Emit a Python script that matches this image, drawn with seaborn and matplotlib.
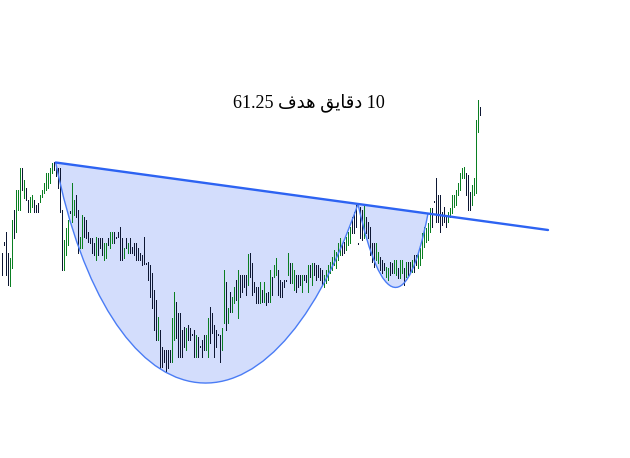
import matplotlib
matplotlib.use("Agg")
import numpy as np
import pandas as pd
import seaborn as sns
import matplotlib.pyplot as plt
from matplotlib.path import Path
from matplotlib.patches import PathPatch

# ---------------- data (bar highs / lows, price units) ----------------
HIGH = [44.7, 45.8, 46.8, 44.7, 44.2, 48.0, 49.0, 51.0, 51.0, 53.2,
        53.2, 52.0, 51.2, 50.0, 50.3, 50.5, 50.0, 49.5, 49.7, 50.5,
        51.0, 51.7, 52.7, 52.7, 53.2, 53.7, 53.8, 53.2, 53.2, 53.2,
        49.0, 46.0, 47.2, 48.0, 48.9, 51.7, 50.0, 50.5, 49.0, 46.3,
        48.5, 48.3, 48.0, 46.8, 46.2, 46.2, 45.7, 46.3, 46.2, 46.2,
        46.2, 45.7, 45.7, 46.2, 46.8, 46.8, 46.8, 46.3, 46.8, 47.3,
        46.2, 45.2, 46.2, 45.7, 46.2, 45.3, 45.7, 45.7, 45.2, 44.7,
        44.5, 46.3, 43.7, 43.8, 43.5, 42.7, 41.0, 40.0, 38.3, 37.0,
        35.3, 35.0, 35.0, 35.0, 35.0, 38.2, 40.8, 39.8, 38.7, 38.7,
        37.0, 37.3, 37.2, 37.5, 37.2, 36.6, 37.0, 36.5, 36.3, 35.4,
        36.0, 36.5, 36.5, 38.2, 39.3, 38.7, 37.5, 37.0, 36.6, 36.5,
        37.2, 43.0, 41.8, 39.2, 40.8, 40.3, 41.3, 42.0, 43.0, 42.5,
        42.5, 42.5, 42.5, 44.6, 44.7, 43.7, 41.8, 41.3, 41.3, 41.8,
        41.0, 41.8, 40.7, 40.8, 43.0, 42.3, 43.5, 44.2, 43.0, 42.0,
        41.8, 42.0, 42.0, 44.7, 43.7, 43.7, 43.0, 42.5, 42.5, 42.5,
        42.5, 42.5, 42.5, 43.5, 43.5, 43.7, 43.7, 43.5, 43.5, 43.2,
        43.0, 42.5, 43.0, 43.5, 43.8, 44.3, 45.0, 44.8, 45.7, 46.2,
        45.7, 45.8, 46.3, 46.8, 47.3, 48.3, 48.8, 49.5, 45.7, 49.3,
        49.0, 49.5, 48.3, 47.8, 47.3, 45.7, 45.7, 45.7, 44.8, 44.3,
        44.0, 43.7, 43.3, 43.2, 43.8, 43.7, 44.0, 44.0, 43.2, 44.0,
        44.0, 43.2, 43.8, 43.8, 43.8, 44.0, 44.5, 44.5, 44.7, 45.2,
        46.7, 47.3, 47.2, 47.7, 49.2, 49.2, 49.9, 52.2, 50.5, 50.5,
        48.8, 49.3, 48.5, 48.8, 49.2, 50.5, 50.5, 51.0, 51.7, 52.7,
        53.2, 53.3, 52.7, 52.5, 50.8, 51.5, 52.2, 58.0, 60.0, 59.3]

LOW = [42.5, 45.5, 42.5, 41.5, 41.4, 43.2, 46.2, 46.8, 49.0, 49.0,
       51.0, 50.2, 50.0, 48.8, 48.8, 49.3, 48.8, 48.8, 48.8, 49.8,
       50.3, 50.7, 51.0, 51.2, 51.7, 52.7, 53.0, 52.4, 51.2, 48.8,
       43.0, 43.0, 44.5, 45.5, 48.7, 47.8, 48.5, 48.3, 44.7, 45.2,
       45.2, 46.3, 46.2, 45.8, 45.7, 44.7, 44.5, 44.0, 44.5, 45.2,
       44.5, 44.0, 44.2, 45.5, 45.2, 45.7, 45.7, 46.2, 46.3, 44.0,
       44.0, 44.2, 45.2, 44.7, 44.7, 44.7, 44.5, 44.0, 44.0, 44.0,
       43.5, 43.6, 43.6, 42.0, 40.3, 39.2, 37.0, 36.0, 36.0, 33.2,
       33.3, 33.8, 32.8, 33.2, 33.8, 33.8, 36.0, 36.2, 34.3, 34.3,
       34.3, 35.3, 35.0, 36.0, 36.0, 36.5, 34.3, 34.3, 34.3, 35.3,
       34.3, 35.0, 35.0, 34.3, 35.7, 36.7, 34.3, 35.3, 36.5, 33.8,
       35.0, 37.7, 37.0, 37.7, 38.8, 38.8, 39.7, 40.0, 38.2, 40.3,
       40.8, 41.3, 40.5, 41.5, 42.3, 40.5, 40.8, 39.7, 39.7, 39.7,
       39.8, 39.8, 39.5, 39.8, 39.8, 40.5, 42.3, 42.5, 40.5, 40.3,
       40.3, 41.3, 41.9, 42.5, 41.7, 41.7, 41.0, 40.8, 41.3, 41.5,
       40.8, 42.0, 41.8, 40.8, 42.3, 41.5, 42.5, 42.0, 42.3, 42.0,
       41.5, 41.3, 41.7, 42.0, 42.7, 43.0, 43.5, 43.2, 44.0, 44.5,
       44.5, 44.7, 45.0, 45.5, 45.7, 46.7, 46.7, 47.3, 45.6, 46.2,
       46.0, 46.2, 46.7, 46.2, 44.5, 43.8, 43.3, 44.0, 43.7, 43.0,
       42.7, 43.0, 42.3, 42.0, 42.5, 42.7, 42.7, 42.5, 42.2, 42.2,
       42.7, 41.5, 42.3, 42.5, 42.8, 42.8, 42.8, 43.5, 43.2, 43.5,
       44.2, 45.3, 45.8, 46.0, 46.8, 47.3, 49.8, 47.8, 47.8, 46.8,
       47.5, 47.8, 47.3, 47.8, 48.3, 48.7, 49.3, 49.5, 50.5, 51.0,
       52.2, 52.2, 50.5, 49.0, 49.0, 49.5, 50.5, 50.7, 56.8, 58.5]

# g = up bar, k = down bar
DIRECTION = ("kkkkggkggg" "kgkkggkkkg" "ggggggkkkk" "kgggkggkkg"
             "gkkkkkkgkk" "kggkggkkkk" "kgkgkkkkkk" "kkkkkkkkgk"
             "kkkkkggkkk" "kkgkkkkgkk" "kkggkkkkkk" "ggkgkggkgk"
             "kkkgkkkkkg" "kgkkgkggkk" "kkkgkggkkk" "gkkgkgkkkk"
             "kggggggggg" "kkgggkkkkk" "kgkkkkkggk" "kkggkkggkg"
             "gkgkkgkkgg" "gggggkkkkk" "kkkggggggg" "ggkkkggggk")

# trendline (bar index, price) and cup / handle anchors
TREND_X = [27.1, 273.25]
TREND_Y = [53.75, 47.0]
CUP_X = [27.1, 53.5, 132.05, 178.25]
CUP_Y_CTRL = [27.3, 23.1]
HANDLE_X = [178.25, 189.75, 203.25, 213.25]
HANDLE_Y_CTRL = [39.0, 38.3]

TITLE = "10 دقايق هدف 61.25"

UP_COLOR = "#0a7f22"
DOWN_COLOR = "#0d1733"
FILL_COLOR = "#d3ddfc"
CURVE_COLOR = "#4a7cf5"
TREND_COLOR = "#2d63f2"


def shape_arabic(text):
    """Minimal Arabic shaping + visual reordering for the letters used."""
    forms = {  # isolated, final, initial, medial
        "د": ("\uFEA9", "\uFEAA", None, None),
        "ا": ("\uFE8D", "\uFE8E", None, None),
        "ق": ("\uFED5", "\uFED6", "\uFED7", "\uFED8"),
        "ي": ("\uFEF1", "\uFEF2", "\uFEF3", "\uFEF4"),
        "ه": ("\uFEE9", "\uFEEA", "\uFEEB", "\uFEEC"),
        "ف": ("\uFED1", "\uFED2", "\uFED3", "\uFED4"),
    }

    def dual(c):
        return c in forms and forms[c][2] is not None

    out_tokens = []
    for tok in text.split(" "):
        if any(c in forms for c in tok):
            res = []
            for i, c in enumerate(tok):
                prev_joins = i > 0 and dual(tok[i - 1])
                next_exists = i < len(tok) - 1 and tok[i + 1] in forms
                iso, fin, ini, med = forms[c]
                if prev_joins and next_exists and dual(c):
                    res.append(med)
                elif prev_joins:
                    res.append(fin)
                elif next_exists and dual(c):
                    res.append(ini)
                else:
                    res.append(iso)
            out_tokens.append("".join(reversed(res)))
        else:
            out_tokens.append(tok)
    return " ".join(reversed(out_tokens))


sns.set_theme(style="white")

df = pd.DataFrame({"idx": np.arange(len(HIGH)), "high": HIGH, "low": LOW,
                   "dir": list(DIRECTION)})

fig = plt.figure(figsize=(6.3, 4.58), dpi=100)
ax = fig.add_axes([0, 0, 1, 1])
# 2 px per bar, bar centres on pixel centres
ax.set_xlim(-0.75, 314.25)
ax.set_ylim(24.2, 70.0)
ax.axis("off")


def line_price(x):
    return TREND_Y[0] + (TREND_Y[1] - TREND_Y[0]) * (x - TREND_X[0]) / (TREND_X[1] - TREND_X[0])


def bowl(xs, yctrl):
    y0, y3 = line_price(xs[0]), line_price(xs[3])
    verts = [(xs[0], y0), (xs[1], yctrl[0]), (xs[2], yctrl[1]), (xs[3], y3)]
    fill_path = Path(verts + [(xs[0], y0), (xs[0], y0)],
                     [Path.MOVETO, Path.CURVE4, Path.CURVE4, Path.CURVE4,
                      Path.LINETO, Path.CLOSEPOLY])
    ax.add_patch(PathPatch(fill_path, facecolor=FILL_COLOR, edgecolor="none", zorder=1))
    edge_path = Path(verts, [Path.MOVETO, Path.CURVE4, Path.CURVE4, Path.CURVE4])
    ax.add_patch(PathPatch(edge_path, facecolor="none", edgecolor=CURVE_COLOR,
                           lw=1.0, zorder=3))


bowl(CUP_X, CUP_Y_CTRL)
bowl(HANDLE_X, HANDLE_Y_CTRL)

colors = [UP_COLOR if d == "g" else DOWN_COLOR for d in df["dir"]]
ax.vlines(df["idx"], df["low"], df["high"], colors=colors, lw=0.72,
          antialiased=False, zorder=2)

sns.lineplot(x=TREND_X, y=TREND_Y, ax=ax, color=TREND_COLOR, lw=1.7, zorder=4)

ax.text(0.4905, 0.775, shape_arabic(TITLE), transform=ax.transAxes,
        ha="center", va="center", fontsize=13, color="black",
        family=["Liberation Serif", "DejaVu Sans"])

fig.savefig("out.png", dpi=100)
